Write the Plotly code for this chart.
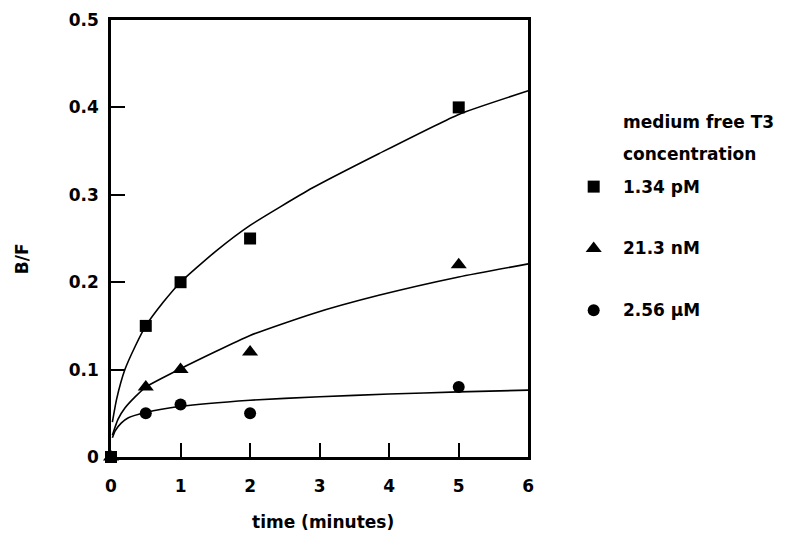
import plotly.graph_objects as go

# Measured binding ratios (B/F) against time in minutes
time_pts = [0, 0.5, 1, 2, 5]
bf_134pM = [0, 0.15, 0.20, 0.25, 0.40]
bf_213nM = [0, 0.08, 0.10, 0.12, 0.22]
bf_256uM = [0, 0.05, 0.06, 0.05, 0.08]

# Fitted curves, sampled along time
fit_x_134pM = [0.02, 0.08, 0.2, 0.35, 0.5, 0.75, 1.0, 1.5, 2.0, 2.9, 3.85, 5.0, 6.0]
fit_y_134pM = [0.040, 0.066, 0.100, 0.127, 0.150, 0.177, 0.200, 0.235, 0.265, 0.308, 0.347, 0.392, 0.419]
fit_x_213nM = [0.02, 0.1, 0.2, 0.35, 0.5, 1.0, 2.0, 2.9, 3.85, 5.0, 6.0]
fit_y_213nM = [0.025, 0.043, 0.056, 0.069, 0.080, 0.101, 0.139, 0.164, 0.185, 0.206, 0.221]
fit_x_256uM = [0.02, 0.06, 0.15, 0.25, 0.5, 1.0, 2.0, 3.0, 4.0, 5.0, 6.0]
fit_y_256uM = [0.022, 0.030, 0.039, 0.045, 0.051, 0.058, 0.065, 0.069, 0.072, 0.0745, 0.0765]

legend_title = ["medium free T3", "concentration"]
legend_labels = ["1.34 pM", "21.3 nM", "2.56 \u03bcM"]
legend_symbols = ["square", "triangle-up", "circle"]

x_ticks = [0, 1, 2, 3, 4, 5, 6]
y_ticks = [0, 0.1, 0.2, 0.3, 0.4, 0.5]
y_ticktext = ["0", "0.1", "0.2", "0.3", "0.4", "0.5"]

FONT = "DejaVu Sans, Verdana, sans-serif"
BLACK = "#000000"

W, H = 799, 548
ml, mr, mt, mb = 111, 10, 19, 91
pw, ph = W - ml - mr, H - mt - mb
axis_right = 532          # right edge of the data frame in pixels


def fx(px):
    return (px - ml) / pw


def fy(py):
    return (H - mb - py) / ph


fig = go.Figure()

for cx, cy in [(fit_x_134pM, fit_y_134pM), (fit_x_213nM, fit_y_213nM), (fit_x_256uM, fit_y_256uM)]:
    fig.add_trace(go.Scatter(x=cx, y=cy, mode="lines",
                             line=dict(color=BLACK, width=1.6, shape="spline", smoothing=0.5),
                             showlegend=False, hoverinfo="skip"))

for ys, sym, sz in [(bf_256uM, "circle", 12), (bf_213nM, "triangle-up", 14), (bf_134pM, "square", 12)]:
    fig.add_trace(go.Scatter(x=time_pts, y=ys, mode="markers",
                             marker=dict(symbol=sym, size=sz, color=BLACK, line=dict(width=0)),
                             cliponaxis=False, showlegend=False))

# Key markers on a hidden axis pair to the right of the frame
key_py = [186, 248, 310]
fig.add_trace(go.Scatter(x=[0.5] * 3, y=[fy(p) for p in key_py], mode="markers",
                         xaxis="x2", yaxis="y2",
                         marker=dict(symbol=legend_symbols, size=[12, 14, 12], color=BLACK,
                                     opacity=1, line=dict(width=0)),
                         showlegend=False, hoverinfo="skip", cliponaxis=False))

txt_font = dict(size=17, family=FONT, color=BLACK, weight="bold")
ann = []
for txt, py in zip(legend_title, [121, 153]):
    ann.append(dict(text=txt, x=fx(626), y=fy(py), xref="paper", yref="paper", showarrow=False,
                    xanchor="left", yanchor="middle", font=txt_font))
for txt, py in zip(legend_labels, key_py):
    ann.append(dict(text=txt, x=fx(626), y=fy(py), xref="paper", yref="paper", showarrow=False,
                    xanchor="left", yanchor="middle", font=txt_font))
ann.append(dict(text="B/F", x=fx(22), y=fy(258), xref="paper", yref="paper", showarrow=False,
                textangle=-90, xanchor="center", yanchor="middle", font=txt_font))
ann.append(dict(text="time (minutes)", x=fx(325), y=fy(522), xref="paper", yref="paper",
                showarrow=False, xanchor="center", yanchor="middle", font=txt_font))

fig.update_layout(
    width=W, height=H,
    margin=dict(l=ml, r=mr, t=mt, b=mb, pad=0),
    paper_bgcolor="white", plot_bgcolor="white",
    font=txt_font,
    annotations=ann,
    xaxis=dict(domain=[0, fx(axis_right)], range=[0, 6], tickvals=x_ticks, ticks="inside",
               ticklen=14, tickwidth=1.5, tickcolor=BLACK, showline=True, linecolor=BLACK,
               linewidth=2.5, mirror=True, showgrid=False, zeroline=False,
               ticklabelstandoff=12, tickfont=txt_font),
    yaxis=dict(range=[0, 0.5], tickvals=y_ticks, ticktext=y_ticktext, ticks="inside", ticklen=14,
               tickwidth=1.5, tickcolor=BLACK, showline=True, linecolor=BLACK, linewidth=2.5,
               mirror=True, showgrid=False, zeroline=False, ticklabelstandoff=6,
               tickfont=txt_font),
    xaxis2=dict(domain=[fx(568), fx(628)], range=[0, 1], visible=False, anchor="y2",
                fixedrange=True),
    yaxis2=dict(domain=[0, 1], range=[0, 1], visible=False, anchor="x2", fixedrange=True),
)

fig.write_html("out.html")
